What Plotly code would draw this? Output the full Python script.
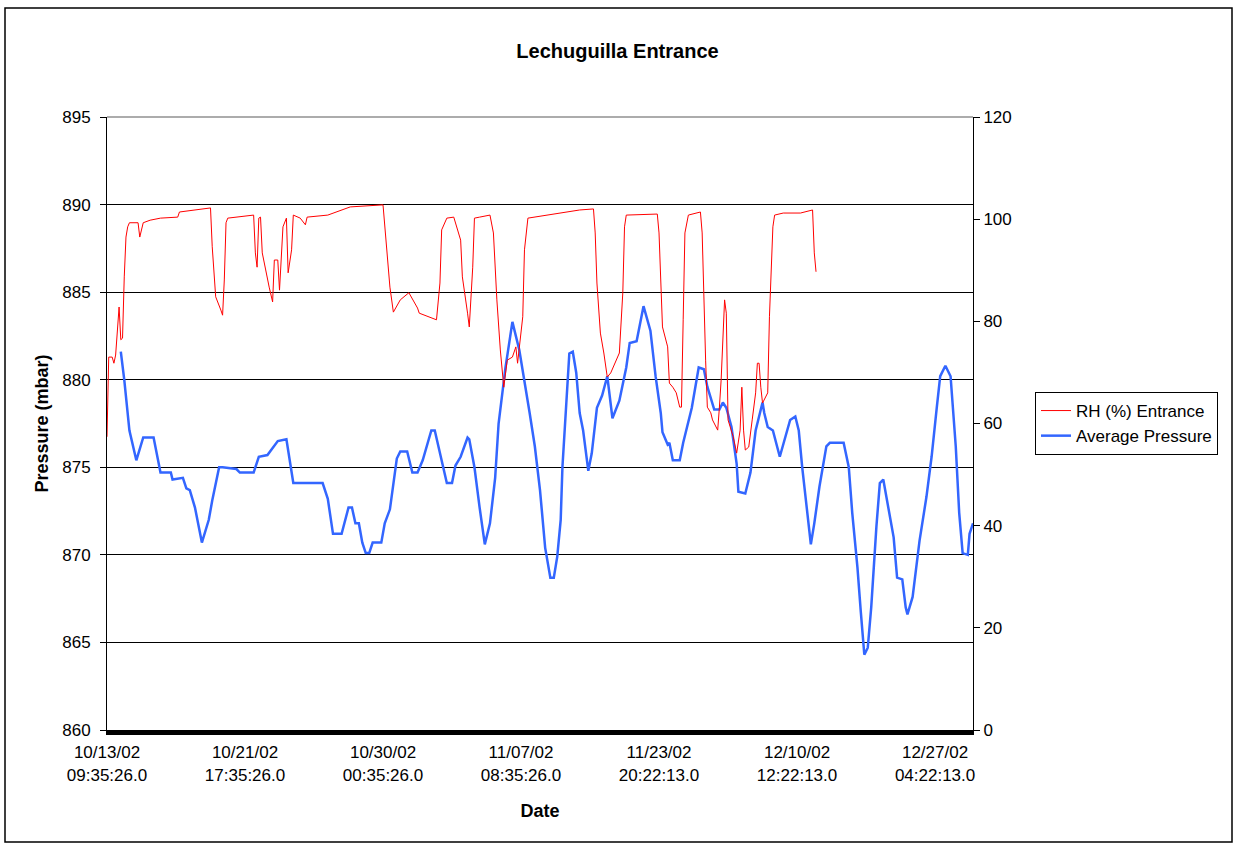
import plotly.graph_objects as go

# ---------------- data ----------------
# x positions are sample indices along the category axis (80 samples per labelled step)
tick_idx = [0, 80, 160, 240, 320, 400, 480]
tick_labels = [
    "10/13/02<br>09:35:26.0",
    "10/21/02<br>17:35:26.0",
    "10/30/02<br>00:35:26.0",
    "11/07/02<br>08:35:26.0",
    "11/23/02<br>20:22:13.0",
    "12/10/02<br>12:22:13.0",
    "12/27/02<br>04:22:13.0",
]

p_idx = [8, 10, 13, 17, 21, 27, 31, 37, 38, 44, 46, 48, 51, 55, 59, 61, 65, 67, 75, 77,
         85, 88, 93, 96, 99, 104, 108, 125, 128, 131, 136, 140, 142, 144, 146, 148, 150, 152, 154, 159,
         161, 164, 168, 170, 174, 177, 180, 183, 188, 190, 194, 197, 200, 202, 205, 209, 210, 213, 216, 219,
         222, 225, 227, 231, 235, 239, 245, 248, 251, 254, 257, 259, 261, 263, 264, 266, 268, 270, 272, 274,
         276, 279, 281, 284, 287, 290, 293, 297, 301, 303, 307, 311, 315, 318, 321, 322, 325, 326, 328, 332,
         334, 339, 343, 346, 348, 352, 355, 357, 359, 362, 365, 366, 370, 373, 376, 380, 381, 383, 386, 390,
         393, 396, 399, 401, 403, 406, 408, 410, 413, 417, 419, 427, 430, 432, 435, 437, 439, 441, 443, 446,
         448, 450, 453, 456, 458, 461, 463, 464, 467, 471, 475, 478, 481, 483, 486, 489, 492, 494, 496, 499,
         500, 502]
p_values = [881.6, 880.0, 877.1, 875.4, 876.7, 876.7, 874.7, 874.7, 874.3, 874.4, 873.8, 873.7, 872.7, 870.7, 872.0, 873.1, 875.0, 875.0, 874.9, 874.7,
            874.7, 875.6, 875.7, 876.1, 876.5, 876.6, 874.1, 874.1, 873.2, 871.2, 871.2, 872.7, 872.7, 871.8, 871.8, 870.7, 870.1, 870.1, 870.7, 870.7,
            871.8, 872.6, 875.5, 875.9, 875.9, 874.7, 874.7, 875.4, 877.1, 877.1, 875.4, 874.1, 874.1, 875.1, 875.6, 876.7, 876.6, 875.0, 872.7, 870.6,
            871.8, 874.4, 877.5, 880.7, 883.3, 881.7, 878.1, 876.2, 873.7, 870.4, 868.7, 868.7, 869.9, 872.0, 875.0, 878.1, 881.5, 881.6, 880.4, 878.1,
            877.1, 874.8, 875.8, 878.4, 879.1, 880.2, 877.8, 878.8, 880.7, 882.1, 882.2, 884.2, 882.8, 880.2, 878.1, 877.0, 876.3, 876.4, 875.4, 875.4,
            876.4, 878.4, 880.7, 880.6, 879.6, 878.3, 878.3, 878.7, 878.4, 877.3, 875.2, 873.6, 873.5, 874.7, 877.1, 878.7, 878.1, 877.3, 877.1, 875.6,
            876.6, 877.7, 877.9, 877.1, 875.0, 872.4, 870.6, 871.8, 873.9, 876.2, 876.4, 876.4, 875.0, 872.4, 869.3, 866.7, 864.3, 864.7, 867.0, 871.6,
            874.1, 874.3, 872.6, 871.0, 868.7, 868.6, 867.0, 866.6, 867.6, 870.8, 873.3, 875.6, 878.4, 880.2, 880.8, 880.2, 876.2, 872.4, 870.1, 870.0,
            871.2, 871.8]

rh_idx = [0, 1, 3, 4, 5, 6, 7, 8, 9, 10, 11, 12, 13, 18, 19, 21, 25, 31, 41, 42,
          60, 61, 63, 66, 67, 68, 69, 70, 85, 86, 87, 88, 89, 90, 93, 94, 96, 97, 99, 100,
          102, 104, 105, 107, 108, 112, 115, 116, 128, 133, 141, 160, 162, 164, 166, 170, 175, 180, 181, 187,
          191, 193, 194, 197, 201, 205, 206, 209, 210, 212, 213, 216, 222, 224, 226, 228, 230, 232, 235, 237,
          238, 241, 242, 244, 251, 264, 274, 282, 283, 284, 286, 288, 290, 292, 295, 297, 299, 300, 301, 319,
          320, 321, 322, 325, 326, 328, 330, 332, 333, 334, 335, 337, 344, 345, 346, 347, 348, 350, 351, 354,
          355, 356, 358, 359, 360, 363, 365, 367, 368, 369, 370, 372, 374, 376, 377, 378, 379, 380, 383, 384,
          386, 387, 392, 402, 409, 410, 411]
rh_values = [57.4, 73.0, 73.0, 71.8, 73.4, 78.7, 82.8, 76.4, 76.7, 88.7, 96.5, 98.5, 99.3, 99.3, 96.5, 99.3, 99.8, 100.2, 100.4, 101.4,
             102.2, 94.6, 84.8, 82.2, 81.2, 88.1, 99.3, 100.2, 100.8, 93.4, 90.6, 100.2, 100.4, 93.4, 88.1, 86.7, 83.8, 92.0, 92.0, 86.1,
             98.5, 100.2, 89.5, 94.0, 100.8, 100.2, 98.9, 100.4, 100.8, 101.4, 102.4, 102.8, 94.0, 86.7, 81.8, 84.2, 85.6, 82.6, 81.6, 80.9,
             80.3, 87.5, 97.9, 100.2, 100.4, 95.9, 88.7, 81.6, 78.9, 90.6, 100.2, 100.4, 100.8, 97.3, 84.2, 74.4, 67.1, 72.4, 73.0, 75.0,
             71.8, 80.9, 94.0, 100.2, 100.6, 101.2, 101.8, 102.0, 97.3, 87.5, 77.7, 73.8, 69.1, 69.9, 72.4, 73.8, 85.6, 98.5, 100.8, 101.0,
             97.3, 87.5, 78.9, 75.0, 67.9, 67.1, 66.0, 63.2, 63.2, 80.3, 97.3, 100.8, 101.4, 97.3, 82.8, 72.4, 63.2, 62.1, 60.7, 58.7,
             63.2, 68.5, 84.2, 81.6, 60.7, 57.4, 54.2, 58.7, 67.1, 58.7, 54.8, 55.4, 60.7, 66.0, 71.8, 71.8, 67.1, 64.0, 66.0, 80.9,
             98.5, 100.8, 101.2, 101.2, 101.8, 93.4, 89.7]

# ---------------- figure ----------------
FONT = "Liberation Sans, Arial, sans-serif"

fig = go.Figure()
fig.add_trace(go.Scatter(
    x=p_idx, y=p_values, name="Average Pressure", mode="lines",
    line=dict(color="#3366FF", width=2.5), yaxis="y",
))
fig.add_trace(go.Scatter(
    x=rh_idx, y=rh_values, name="RH (%) Entrance", mode="lines",
    line=dict(color="#FF0000", width=1), yaxis="y2",
))

fig.update_layout(
    width=1235, height=843,
    margin=dict(l=107, r=262, t=117, b=113),
    paper_bgcolor="white", plot_bgcolor="white",
    font=dict(family=FONT, size=16, color="black"),
    title=dict(text="<b>Lechuguilla Entrance</b>", x=0.5, xref="container", xanchor="center",
               y=1 - 51 / 843, yanchor="middle", font=dict(size=20, family=FONT)),
    showlegend=True,
    legend=dict(x=(1035 - 107) / 866, y=(730 - 392) / 613, xanchor="left", yanchor="top",
                bordercolor="black", borderwidth=1, bgcolor="white",
                traceorder="reversed", font=dict(size=17, family=FONT),
                itemwidth=30, tracegroupgap=0),
    xaxis=dict(
        range=[0, 502], tickmode="array", tickvals=tick_idx, ticktext=tick_labels,
        showline=True, linecolor="black", linewidth=5, ticks="", showgrid=False, zeroline=False,
        tickfont=dict(size=17), ticklabelstandoff=3,
        title=dict(text="<b>Date</b>", font=dict(size=18), standoff=22),
    ),
    yaxis=dict(
        range=[860, 895], tickmode="array", tickvals=[860, 865, 870, 875, 880, 885, 890, 895],
        showline=True, linecolor="black", linewidth=1, ticks="outside", ticklen=6, tickcolor="black",
        showgrid=True, gridcolor="black", gridwidth=1, zeroline=False,
        tickfont=dict(size=17), ticklabelstandoff=6,
        title=dict(text="<b>Pressure (mbar)</b>", font=dict(size=18), standoff=8),
    ),
    yaxis2=dict(
        range=[0, 120], tickmode="array", tickvals=[0, 20, 40, 60, 80, 100, 120],
        overlaying="y", side="right",
        showline=True, linecolor="black", linewidth=1, ticks="outside", ticklen=6, tickcolor="black",
        showgrid=False, zeroline=False, tickfont=dict(size=17),
    ),
    shapes=[
        # gray top border of the plot area
        dict(type="line", xref="paper", yref="paper", x0=0, x1=1, y0=1, y1=1,
             line=dict(color="#909090", width=1.5), layer="above"),
        # chart area border
        dict(type="rect", xref="paper", yref="paper",
             x0=(5 - 107) / 866, x1=(1232 - 107) / 866,
             y0=(730 - 842) / 613, y1=(730 - 8) / 613,
             line=dict(color="black", width=1.5), fillcolor="rgba(0,0,0,0)", layer="above"),
    ],
)

fig.write_html("out.html", config={"displayModeBar": False},
               post_script="document.body.style.margin='0';document.body.style.overflow='hidden';")
